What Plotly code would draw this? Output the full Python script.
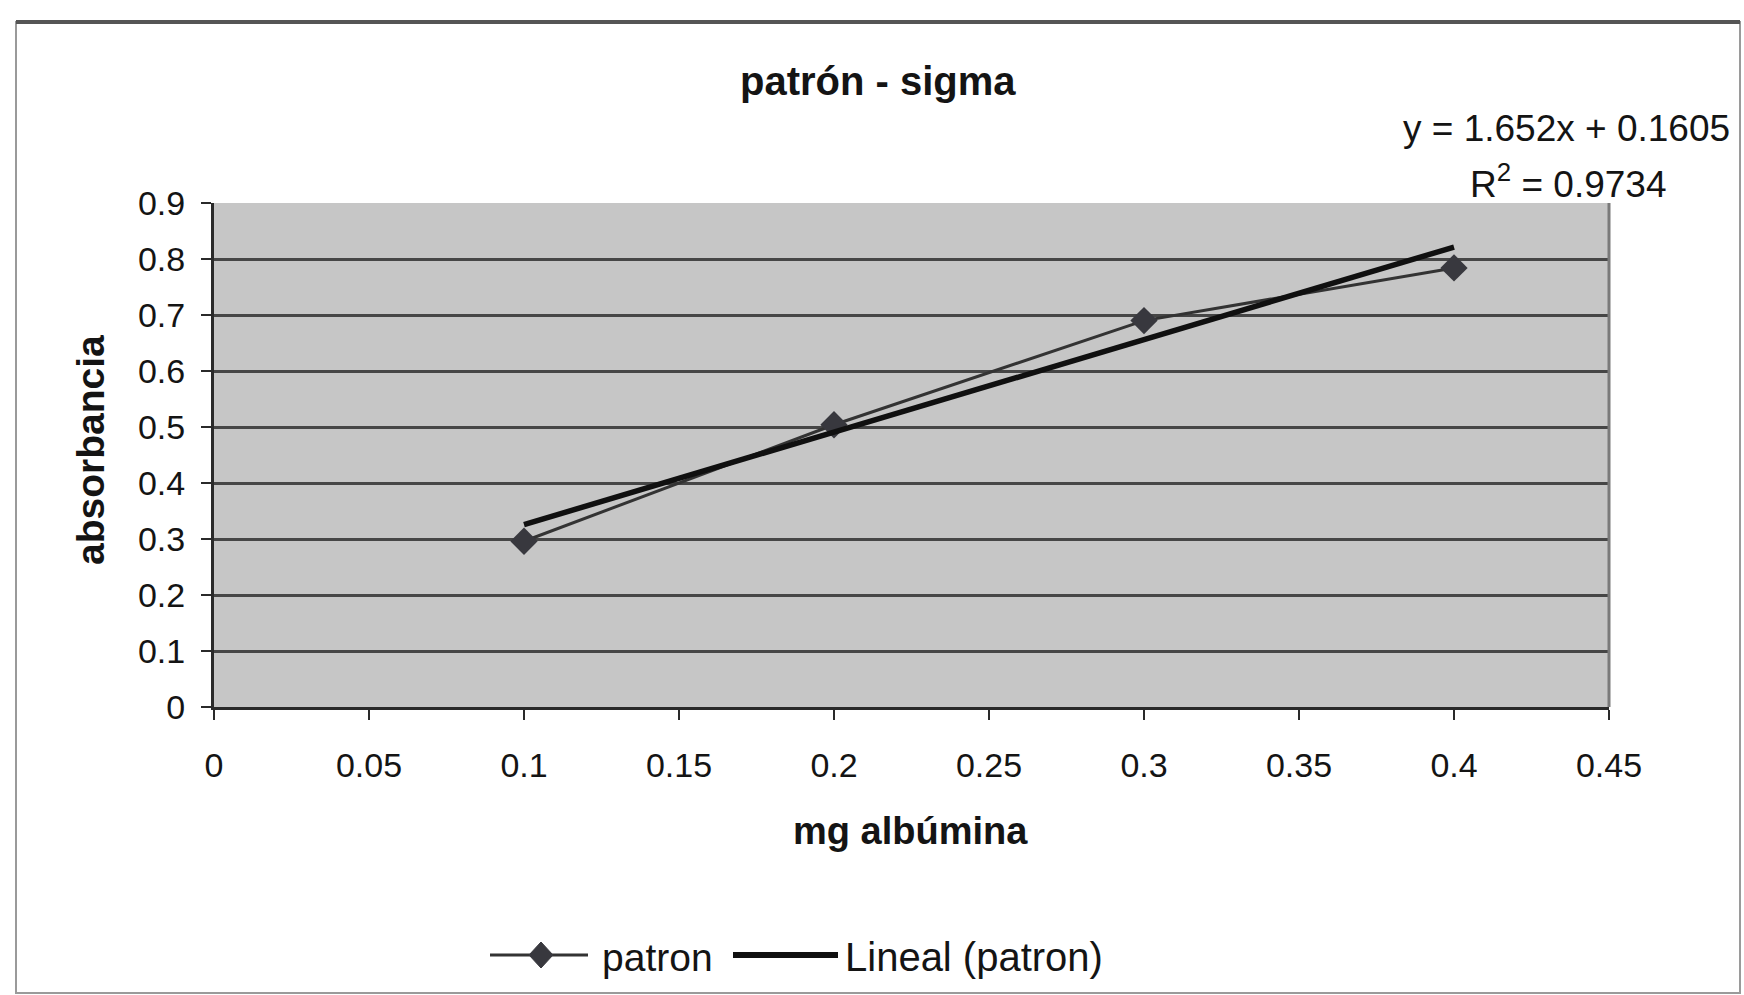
import plotly.graph_objects as go

# Calibration standard: albumin mass vs absorbance
mg_albumina = [0.1, 0.2, 0.3, 0.4]
absorbancia = [0.296, 0.504, 0.690, 0.784]

# Linear trendline parameters (as reported on the chart)
pendiente = 1.652
intercepto = 0.1605
r2 = 0.9734

x_ticks = [0, 0.05, 0.1, 0.15, 0.2, 0.25, 0.3, 0.35, 0.4, 0.45]
x_tick_text = ["0", "0.05", "0.1", "0.15", "0.2", "0.25", "0.3", "0.35", "0.4", "0.45"]
y_ticks = [0, 0.1, 0.2, 0.3, 0.4, 0.5, 0.6, 0.7, 0.8, 0.9]
y_tick_text = ["0", "0.1", "0.2", "0.3", "0.4", "0.5", "0.6", "0.7", "0.8", "0.9"]

FONT = "Liberation Sans, Arial, sans-serif"
TXT = "#141414"

# figure geometry (pixels)
W, H = 1744, 995
L, R, T, B = 214, 1609, 203, 707
PW, PH = R - L, B - T


def px(x):
    return (x - L) / PW


def py(y):
    return (B - y) / PH


trend_x = [min(mg_albumina), max(mg_albumina)]
trend_y = [pendiente * v + intercepto for v in trend_x]

fig = go.Figure()
fig.add_trace(go.Scatter(
    x=mg_albumina, y=absorbancia, mode="lines+markers", name="patron",
    line=dict(color="#333333", width=3),
    marker=dict(symbol="diamond", size=21, color="#38383e"),
    showlegend=False,
))
fig.add_trace(go.Scatter(
    x=trend_x, y=trend_y, mode="lines", name="Lineal (patron)",
    line=dict(color="#101010", width=5.5),
    showlegend=False,
))

shapes = []
# chart area frame
shapes.append(dict(type="rect", xref="paper", yref="paper",
                   x0=px(16), x1=px(1740), y0=py(993), y1=py(22),
                   line=dict(color="#9a9a9a", width=2), layer="below"))
shapes.append(dict(type="line", xref="paper", yref="paper",
                   x0=px(16), x1=px(1740), y0=py(22), y1=py(22),
                   line=dict(color="#555555", width=4)))
# right edge of the plot area
shapes.append(dict(type="line", xref="paper", yref="paper",
                   x0=1, x1=1, y0=0, y1=1,
                   line=dict(color="#7a7a7a", width=3)))

# legend glyphs
ly = py(955)
shapes.append(dict(type="line", xref="paper", yref="paper",
                   x0=px(490), x1=px(588), y0=ly, y1=ly,
                   line=dict(color="#333333", width=3)))
cx, hw, hh = px(541), 12 / PW, 13 / PH
shapes.append(dict(type="path", xref="paper", yref="paper",
                   path=f"M {cx},{ly + hh} L {cx + hw},{ly} L {cx},{ly - hh} L {cx - hw},{ly} Z",
                   fillcolor="#38383e", line=dict(color="#38383e", width=1)))
shapes.append(dict(type="line", xref="paper", yref="paper",
                   x0=px(733), x1=px(838), y0=ly, y1=ly,
                   line=dict(color="#101010", width=6)))

annotations = [
    dict(text="<b>patrón - sigma</b>", x=px(878), y=py(81), xref="paper", yref="paper",
         xanchor="center", yanchor="middle", showarrow=False,
         font=dict(family=FONT, size=40, color=TXT)),
    dict(text=f"y = {pendiente}x + {intercepto}", x=px(1566), y=py(128), xref="paper", yref="paper",
         xanchor="center", yanchor="middle", showarrow=False,
         font=dict(family=FONT, size=37, color=TXT)),
    dict(text=f"R<sup>2</sup> = {r2}", x=px(1568), y=py(182), xref="paper", yref="paper",
         xanchor="center", yanchor="middle", showarrow=False,
         font=dict(family=FONT, size=37, color=TXT)),
    dict(text="<b>mg albúmina</b>", x=px(910), y=py(831), xref="paper", yref="paper",
         xanchor="center", yanchor="middle", showarrow=False,
         font=dict(family=FONT, size=38, color=TXT)),
    dict(text="<b>absorbancia</b>", x=px(90), y=py(450), xref="paper", yref="paper",
         xanchor="center", yanchor="middle", showarrow=False, textangle=-90,
         font=dict(family=FONT, size=39, color=TXT)),
    dict(text="patron", x=px(600), y=py(957), xref="paper", yref="paper",
         xanchor="left", yanchor="middle", showarrow=False,
         font=dict(family=FONT, size=39, color=TXT)),
    dict(text="Lineal (patron)", x=px(843), y=py(957), xref="paper", yref="paper",
         xanchor="left", yanchor="middle", showarrow=False,
         font=dict(family=FONT, size=40, color=TXT)),
]

fig.update_layout(
    width=W, height=H,
    margin=dict(l=L, r=W - R, t=T, b=H - B, pad=0),
    paper_bgcolor="white",
    plot_bgcolor="#c6c6c6",
    shapes=shapes,
    annotations=annotations,
    showlegend=False,
)
fig.update_xaxes(
    range=[0, 0.45], tickvals=x_ticks, ticktext=x_tick_text,
    showgrid=False, zeroline=False,
    showline=True, linecolor="#2a2a2a", linewidth=3,
    ticks="outside", ticklen=10, tickwidth=2, tickcolor="#2a2a2a",
    ticklabelstandoff=16,
    tickfont=dict(family=FONT, size=34, color=TXT),
)
fig.update_yaxes(
    range=[0, 0.9], tickvals=y_ticks, ticktext=y_tick_text,
    showgrid=True, gridcolor="#464646", gridwidth=2.5, zeroline=False,
    showline=True, linecolor="#2a2a2a", linewidth=3,
    ticks="outside", ticklen=10, tickwidth=2, tickcolor="#2a2a2a",
    ticklabelstandoff=9,
    tickfont=dict(family=FONT, size=34, color=TXT),
)

fig.write_html("out.html")
